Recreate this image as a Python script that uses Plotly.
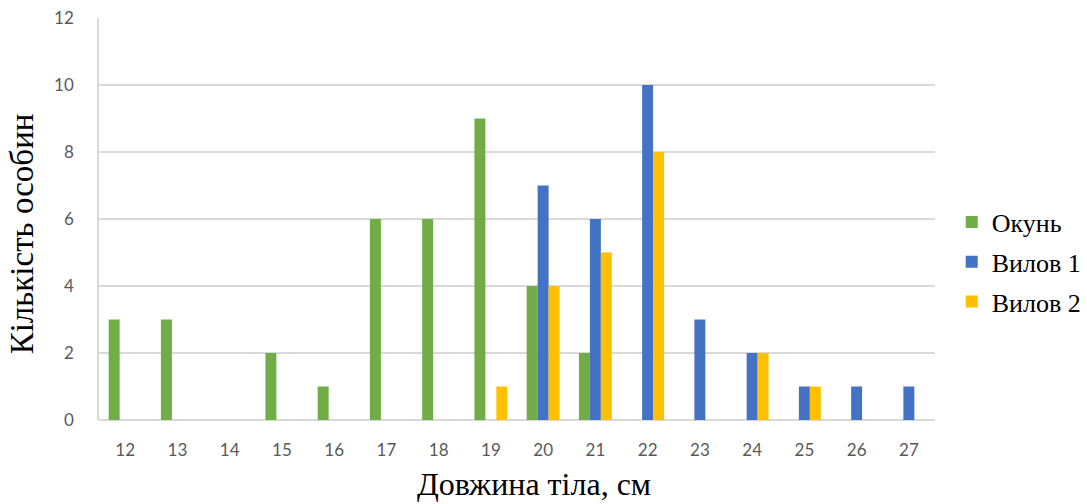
import plotly.graph_objects as go

# Body length classes, cm
lengths = ["12", "13", "14", "15", "16", "17", "18", "19",
           "20", "21", "22", "23", "24", "25", "26", "27"]

# Number of individuals per length class
okun = [3, 3, 0, 2, 1, 6, 6, 9, 4, 2, 0, 0, 0, 0, 0, 0]
vylov_1 = [0, 0, 0, 0, 0, 0, 0, 0, 7, 6, 10, 3, 2, 1, 1, 1]
vylov_2 = [0, 0, 0, 0, 0, 0, 0, 1, 4, 5, 8, 0, 2, 1, 0, 0]

y_ticks = [0, 2, 4, 6, 8, 10, 12]

series = [
    ("Окунь", okun, "#70AD47"),
    ("Вилов 1", vylov_1, "#4472C4"),
    ("Вилов 2", vylov_2, "#FFC000"),
]

fig = go.Figure()
for name, vals, color in series:
    fig.add_trace(go.Bar(x=lengths, y=vals, name=name, legendgroup=name,
                         marker=dict(color=color, line=dict(width=0))))

tick_font = dict(family="Lato, 'Open Sans', sans-serif", size=17, color="#595959")
serif = "'Liberation Serif', 'Times New Roman', serif"

fig.update_layout(
    width=1087, height=504,
    margin=dict(l=99, r=152, t=18, b=84, autoexpand=False),
    paper_bgcolor="white", plot_bgcolor="white",
    barmode="group", bargap=0.37, bargroupgap=0,
    showlegend=True,
    legend=dict(x=1.02, y=0.393, xanchor="left", yanchor="middle",
                font=dict(family=serif, size=26, color="#000000"),
                itemwidth=30, tracegroupgap=3, bgcolor="rgba(0,0,0,0)"),
    xaxis=dict(type="category", tickfont=tick_font, showgrid=False,
               showline=False, ticks="", ticklabelstandoff=18,
               zeroline=False),
    yaxis=dict(range=[0, 12], tickvals=y_ticks, tickfont=tick_font,
               showgrid=True, gridcolor="#D9D9D9", gridwidth=1.5,
               showline=True, linecolor="#D9D9D9", linewidth=1.5,
               zeroline=True, zerolinecolor="#D9D9D9", zerolinewidth=1.5,
               ticks="", ticklabelstandoff=20),
    annotations=[
        dict(text="Довжина тіла, см", xref="paper", yref="paper",
             x=0.52, y=-0.16, xanchor="center", yanchor="middle",
             showarrow=False, font=dict(family=serif, size=32, color="#000000")),
        dict(text="Кількість особин", xref="paper", yref="paper",
             x=-0.092, y=0.462, xanchor="center", yanchor="middle",
             textangle=-90, showarrow=False,
             font=dict(family=serif, size=33, color="#000000")),
    ],
)

fig.write_html("out.html")
